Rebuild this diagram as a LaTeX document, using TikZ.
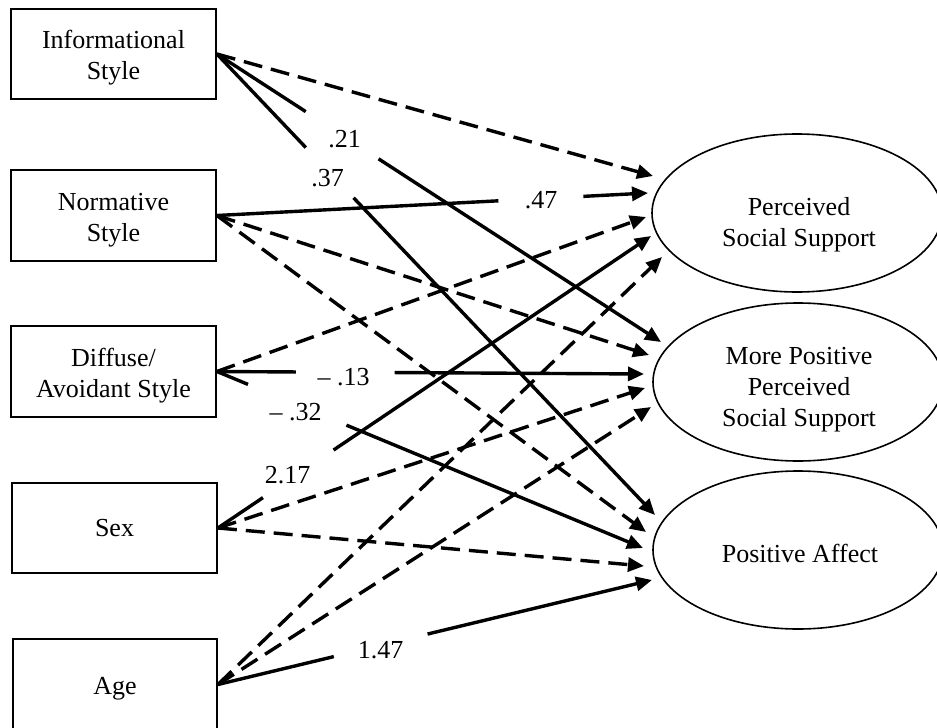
\documentclass[tikz,border=0pt]{standalone}
\usepackage{fontspec}
\setmainfont{Liberation Serif}
\usetikzlibrary{arrows.meta,calc,shapes.geometric}
\newcommand\labfont{\fontsize{26}{31}\selectfont}
\newcommand\topstrut{\rule{0pt}{26pt}}
\tikzset{
  varbox/.style={draw, line width=1.8pt, minimum width=205pt, minimum height=90pt, align=center, inner sep=0pt, font=\labfont},
  latent/.style={draw, ellipse, line width=1.6pt, minimum width=290pt, minimum height=158pt, inner sep=0pt},
  lattext/.style={align=center, inner sep=0pt, font=\labfont},
  effect/.style={line width=3.4pt, -{Triangle[length=16pt,width=14pt]}},
  plainseg/.style={line width=3.4pt},
  nseffect/.style={effect, dash pattern=on 19pt off 9pt},
  coef/.style={anchor=base, font=\labfont, inner sep=0pt},
}
\begin{document}
\begin{tikzpicture}[x=1pt,y=-1pt]
\fill[white] (0,0) rectangle (937,728);
\useasboundingbox (0,0) rectangle (937,728);

% observed variables
\node[varbox] (info) at (113.5,54) {\topstrut Informational\\Style};
\node[varbox, minimum height=91pt] (norm) at (113.5,215.5) {\topstrut Normative\\Style};
\node[varbox, minimum height=91pt] (diff) at (113.5,371.5) {\topstrut Diffuse/\\Avoidant Style};
\node[varbox] (sex) at (114.5,528) {Sex};
\node[varbox, minimum height=91pt, minimum width=204pt] (age) at (115,684.5) {\topstrut Age};

% outcome ellipses
\node[latent] (pss) at (797,213) {};
\node[latent] (mpp) at (798,382) {};
\node[latent] (pa)  at (798,550) {};
\node[lattext] (psst) at (799,225) {Perceived\\Social Support};
\node[lattext] (mppt) at (799,390) {More Positive\\Perceived\\Social Support};
\node[lattext] (pat)  at (800,553) {Positive Affect};

% arrow tips
\coordinate (t11) at (653,176);
\coordinate (t21) at (648,193);
\coordinate (t31) at (646,217);
\coordinate (t41) at (651,236);
\coordinate (t51) at (662,257);
\coordinate (t12) at (661,342);
\coordinate (t22) at (649,355);
\coordinate (t32) at (644,374);
\coordinate (t42) at (645,388);
\coordinate (t52) at (651,407);
\coordinate (t13) at (655,515);
\coordinate (t23) at (646,532);
\coordinate (t33) at (643,548);
\coordinate (t43) at (644,566);
\coordinate (t53) at (652,580);

% Informational
\draw[nseffect] (info.east) -- (t11);
\draw[plainseg] (info.east) -- ($(info.east)!0.200!(t12)$);
\draw[effect] ($(info.east)!0.364!(t12)$) -- (t12);
\draw[plainseg] (info.east) -- ($(info.east)!0.203!(t13)$);
\draw[effect] ($(info.east)!0.312!(t13)$) -- (t13);

% Normative
\draw[plainseg] (norm.east) -- ($(norm.east)!0.653!(t21)$);
\draw[effect] ($(norm.east)!0.850!(t21)$) -- (t21);
\draw[nseffect] (norm.east) -- (t22);
\draw[nseffect] (norm.east) -- (t23);

% Diffuse
\draw[nseffect] (diff.east) -- (t31);
\draw[plainseg] (diff.east) -- ($(diff.east)!0.185!(t32)$);
\draw[effect] ($(diff.east)!0.416!(t32)$) -- (t32);
\draw[plainseg] (diff.east) -- ($(diff.east)!0.073!(t33)$);
\draw[effect] ($(diff.east)!0.304!(t33)$) -- (t33);

% Sex
\draw[plainseg] (sex.east) -- ($(sex.east)!0.104!(t41)$);
\draw[effect] ($(sex.east)!0.267!(t41)$) -- (t41);
\draw[nseffect] (sex.east) -- (t42);
\draw[nseffect] (sex.east) -- (t43);

% Age
\draw[nseffect] (age.east) -- (t51);
\draw[nseffect] (age.east) -- (t52);
\draw[plainseg] (age.east) -- ($(age.east)!0.267!(t53)$);
\draw[effect] ($(age.east)!0.483!(t53)$) -- (t53);

% coefficients
\node[coef] (c21) at (344.5,147) {.21};
\node[coef] (c37) at (327.5,186) {.37};
\node[coef] (c47) at (541,208) {.47};
\node[coef] (c13) at (343.5,385) {– .13};
\node[coef] (c32) at (295.5,420) {– .32};
\node[coef] (c217) at (287.5,483) {2.17};
\node[coef] (c147) at (380.5,658) {1.47};
\end{tikzpicture}
\end{document}
